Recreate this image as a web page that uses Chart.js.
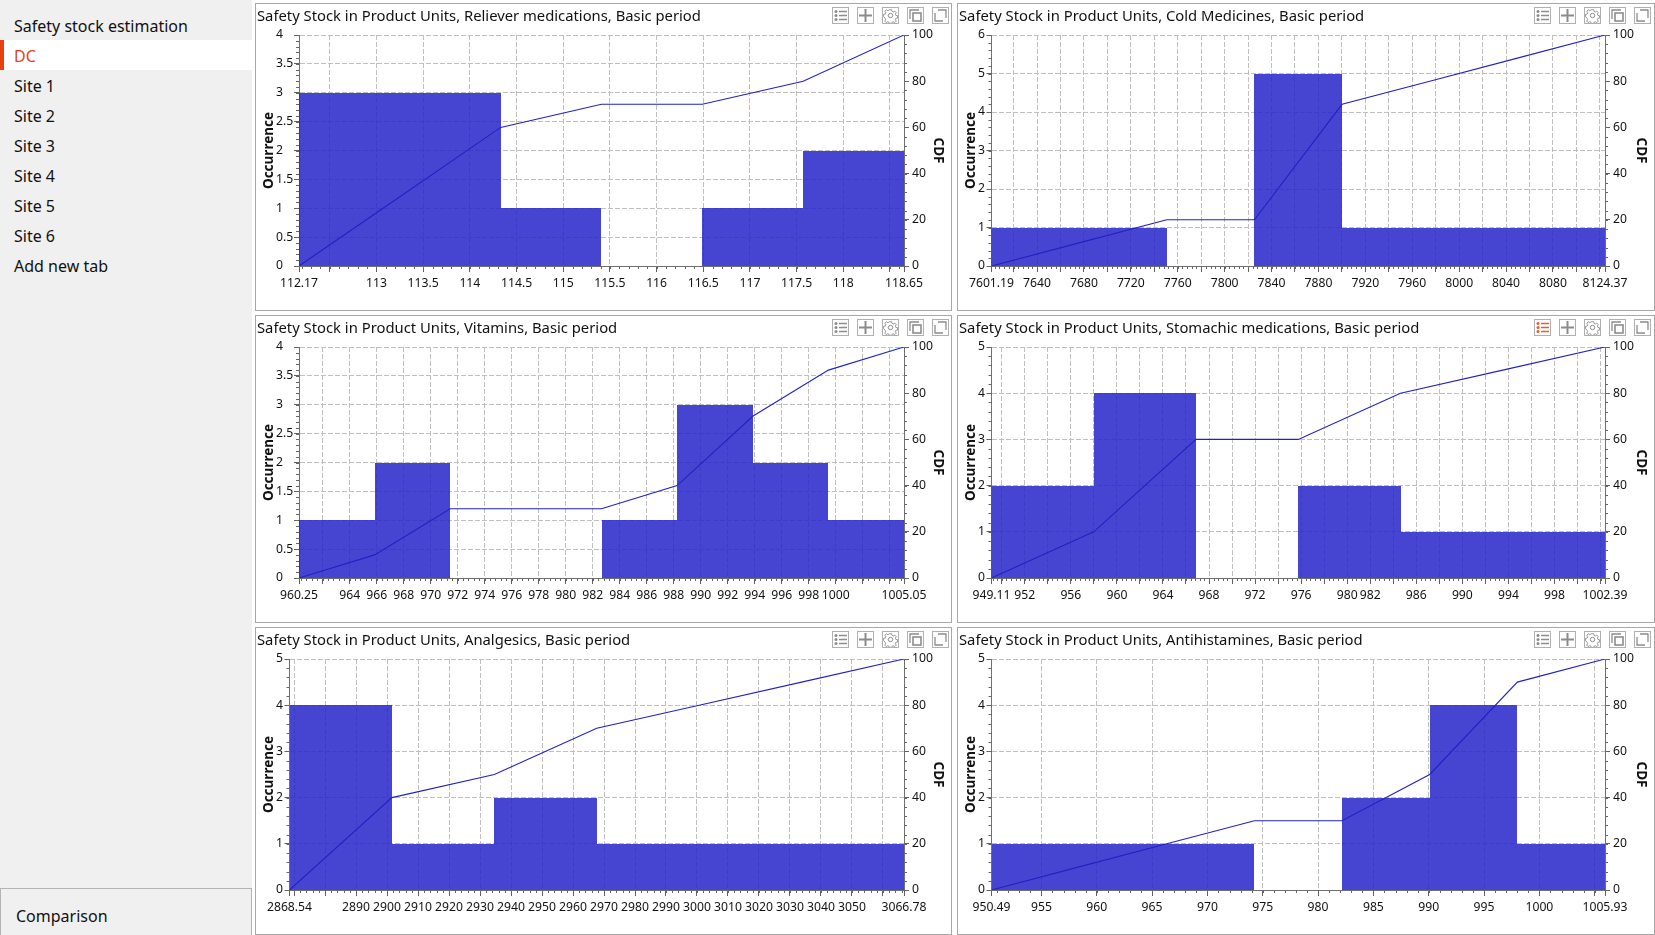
<!DOCTYPE html>
<html><head><meta charset="utf-8">
<script src="https://cdn.jsdelivr.net/npm/chart.js@4"></script>
<style>
html,body{margin:0;padding:0;background:#fff;width:1655px;height:935px;overflow:hidden;font-family:"Noto Sans",sans-serif;color:#111}
#side{position:absolute;left:0;top:0;width:252px;height:935px;background:#f0f0f0}
.item{position:absolute;left:14px;font-size:16px;line-height:30px;height:30px;white-space:nowrap}
#sel{position:absolute;left:0;top:40px;width:252px;height:30px;background:#fff}
#bar{position:absolute;left:0;top:40px;width:4px;height:30px;background:#e8410f}
#cmp{position:absolute;left:0;top:888px;height:47px;border:1px solid #b4b4b4;border-bottom:0;box-sizing:border-box;width:252px}
#cmp span{position:absolute;left:15px;top:12px;font-size:16px;line-height:30px}
.panel{position:absolute;box-sizing:border-box;border:1px solid #a8a8a8;background:#fff}
.panel canvas{position:absolute;display:block}
.ptitle{position:absolute;left:1px;top:0;font-size:14.8px;line-height:22px;white-space:nowrap;color:#111;z-index:2}
.ico{position:absolute;width:17px;height:17px;box-sizing:border-box;border:1px solid #b0b0b0;background:#fff;z-index:2}
.ico svg{display:block;width:15px;height:15px}
</style></head><body>
<div id="side"></div><div id="sel"></div><div id="bar"></div>
<div id="cmp"><span>Comparison</span></div>
<div id="root"></div>
<script>
// ---- sidebar text
const sidebarItems = ["Safety stock estimation","DC","Site 1","Site 2","Site 3","Site 4","Site 5","Site 6","Add new tab"];

// ---- Reliever medications
const relieverEdges  = [112.17,113.25,114.33,115.41,116.49,117.57,118.65];
const relieverCounts = [3,3,1,0,1,2];
const relieverCdf    = [0,30,60,70,70,80,100];
const relieverLabels = [112.17,113,113.5,114,114.5,115,115.5,116,116.5,117,117.5,118,118.65];
const relieverOccTicks = [0,0.5,1,1.5,2,2.5,3,3.5,4];

// ---- Cold Medicines
const coldEdges  = [7601.19,7675.93,7750.67,7825.41,7900.15,7974.89,8049.63,8124.37];
const coldCounts = [1,1,0,5,1,1,1];
const coldCdf    = [0,10,20,20,70,80,90,100];
const coldLabels = [7601.19,7640,7680,7720,7760,7800,7840,7880,7920,7960,8000,8040,8080,8124.37];
const coldOccTicks = [0,1,2,3,4,5,6];

// ---- Vitamins
const vitaminEdges  = [960.25,965.85,971.45,977.05,982.65,988.25,993.85,999.45,1005.05];
const vitaminCounts = [1,2,0,0,1,3,2,1];
const vitaminCdf    = [0,10,30,30,30,40,70,90,100];
const vitaminLabels = [960.25,964,966,968,970,972,974,976,978,980,982,984,986,988,990,992,994,996,998,1000,1005.05];
const vitaminOccTicks = [0,0.5,1,1.5,2,2.5,3,3.5,4];

// ---- Stomachic medications
const stomachicEdges  = [949.11,957.99,966.87,975.75,984.63,993.51,1002.39];
const stomachicCounts = [2,4,0,2,1,1];
const stomachicCdf    = [0,20,60,60,80,90,100];
const stomachicLabels = [949.11,952,956,960,964,968,972,976,980,982,986,990,994,998,1002.39];
const stomachicOccTicks = [0,1,2,3,4,5];

// ---- Analgesics
const analgesicEdges  = [2868.54,2901.58,2934.62,2967.66,3000.70,3033.74,3066.78];
const analgesicCounts = [4,1,2,1,1,1];
const analgesicCdf    = [0,40,50,70,80,90,100];
const analgesicLabels = [2868.54,2890,2900,2910,2920,2930,2940,2950,2960,2970,2980,2990,3000,3010,3020,3030,3040,3050,3066.78];
const analgesicOccTicks = [0,1,2,3,4,5];

// ---- Antihistamines
const antihistEdges  = [950.49,958.41,966.33,974.25,982.17,990.09,998.01,1005.93];
const antihistCounts = [1,1,1,0,2,4,1];
const antihistCdf    = [0,10,20,30,30,50,90,100];
const antihistLabels = [950.49,955,960,965,970,975,980,985,990,995,1000,1005.93];
const antihistOccTicks = [0,1,2,3,4,5];

const cdfTicks = [0,20,40,60,80,100];

const panels = [
 {name:"Reliever medications", edges:relieverEdges,counts:relieverCounts,cdf:relieverCdf,labels:relieverLabels,occ:relieverOccTicks,gridStep:0.5,minorX:0.1,minorY:0.1,col:0,row:0,plotLeft:43},
 {name:"Cold Medicines",       edges:coldEdges,counts:coldCounts,cdf:coldCdf,labels:coldLabels,occ:coldOccTicks,gridStep:20,minorX:4,minorY:0.2,col:1,row:0,plotLeft:33.5},
 {name:"Vitamins",             edges:vitaminEdges,counts:vitaminCounts,cdf:vitaminCdf,labels:vitaminLabels,occ:vitaminOccTicks,gridStep:2,minorX:0.4,minorY:0.1,col:0,row:1,plotLeft:43},
 {name:"Stomachic medications",edges:stomachicEdges,counts:stomachicCounts,cdf:stomachicCdf,labels:stomachicLabels,occ:stomachicOccTicks,gridStep:2,minorX:0.4,minorY:0.2,col:1,row:1,plotLeft:33.5,active:true},
 {name:"Analgesics",           edges:analgesicEdges,counts:analgesicCounts,cdf:analgesicCdf,labels:analgesicLabels,occ:analgesicOccTicks,gridStep:10,minorX:2,minorY:0.2,col:0,row:2,plotLeft:33.5},
 {name:"Antihistamines",       edges:antihistEdges,counts:antihistCounts,cdf:antihistCdf,labels:antihistLabels,occ:antihistOccTicks,gridStep:5,minorX:1,minorY:0.2,col:1,row:2,plotLeft:33.5}
];

// sidebar
sidebarItems.forEach((t,i)=>{
  const d=document.createElement('div');d.className='item';d.textContent=t;
  d.style.top=(11+i*30)+'px';
  if(t==='DC'){d.style.color='#e8401c';}
  document.body.appendChild(d);
});

// icons
function iconSvg(kind,c){
  const s=`stroke="${c}" fill="none"`;
  const m={
   list:`<circle cx="3" cy="3.5" r="1.5" fill="${c}"/><circle cx="3" cy="7.5" r="1.5" fill="${c}"/><circle cx="3" cy="11.5" r="1.5" fill="${c}"/><path d="M6 3.5h8M6 7.5h8M6 11.5h8" ${s} stroke-width="1.3"/>`,
   plus:`<path d="M7.5 1v13M1 7.5h13" ${s} stroke-width="2"/>`,
   gear:`<circle cx="7.5" cy="7.5" r="2.2" ${s} stroke-width="1"/><path d="M6.3 1.2h2.4l.4 1.8 1.5.7 1.6-1 1.6 1.7-1 1.5.6 1.5 1.8.4v2.4l-1.8.4-.6 1.5 1 1.5-1.6 1.6-1.6-.9-1.5.6-.4 1.8H6.3l-.4-1.8-1.5-.6-1.6.9-1.6-1.6 1-1.5-.6-1.5L0 8.7V6.3l1.8-.4.6-1.5-1-1.5L3 1.2l1.6 1 1.5-.7z" ${s} stroke-width="1" transform="translate(.6 .6) scale(.92)"/>`,
   copy:`<path d="M2 11V2h9" ${s} stroke-width="1.3"/><rect x="5" y="5" width="8" height="8" ${s} stroke-width="1.6"/>`,
   max:`<path d="M5 2h8v8M10 13H2V5" ${s} stroke-width="1.3"/>`
  };
  return `<svg viewBox="0 0 15 15" xmlns="http://www.w3.org/2000/svg">${m[kind]}</svg>`;
}

// minor tick marks, read through each chart's own scales
const minorTicks={id:'minorTicks',afterDraw(chart,args,o){
  const {ctx,chartArea:a,scales:{x,y,y2}}=chart;
  ctx.save();ctx.strokeStyle='#666';ctx.lineWidth=1;ctx.beginPath();
  const eps=1e-6;
  for(let k=Math.ceil(x.min/o.x-eps);k*o.x<=x.max+eps;k++){
    const p=Math.round(x.getPixelForValue(k*o.x))+.5;ctx.moveTo(p,a.bottom);ctx.lineTo(p,a.bottom+3);}
  for(let k=0;k*o.y<=y.max+eps;k++){
    const p=Math.round(y.getPixelForValue(k*o.y))+.5;ctx.moveTo(a.left,p);ctx.lineTo(a.left-3,p);}
  for(let k=0;k*4<=y2.max+eps;k++){
    const p=Math.round(y2.getPixelForValue(k*4))+.5;ctx.moveTo(a.right,p);ctx.lineTo(a.right+3,p);}
  ctx.stroke();ctx.restore();
}};

// snap histogram bars to whole pixels so that neighbouring bins leave no seam
const snapBars={id:'snapBars',afterDatasetsUpdate(chart){
  chart.getSortedVisibleDatasetMetas().forEach(meta=>{
    if(meta.type!=='bar')return;
    meta.data.forEach(b=>{
      const l=Math.round(b.x-b.width/2),r=Math.round(b.x+b.width/2);
      b.x=(l+r)/2;b.width=r-l;b.y=Math.round(b.y);b.base=Math.round(b.base);
    });
  });
}};

const colX=[{left:255,width:697,plotRight:904},{left:957,width:698,plotRight:1605}];
const rowY=[{top:3,height:308},{top:315,height:308},{top:627,height:308}];
const gridC='#c0c0c0', axisC='#707070', tickC='#606060', textC='#111';
const font12={family:'"Noto Sans"',size:12.2};
const titleFont={family:'"Noto Sans"',size:13.5,weight:'bold',lineHeight:1};

panels.forEach(p=>{
  const cx=colX[p.col], ry=rowY[p.row];
  const el=document.createElement('div');el.className='panel';
  el.style.cssText=`left:${cx.left}px;top:${ry.top}px;width:${cx.width}px;height:${ry.height}px`;
  const t=document.createElement('div');t.className='ptitle';
  t.textContent=`Safety Stock in Product Units, ${p.name}, Basic period`;el.appendChild(t);
  ['list','plus','gear','copy','max'].forEach((k,i)=>{
    const b=document.createElement('div');b.className='ico';
    b.style.left=(576+i*25)+'px';b.style.top='3px';
    const red=p.active&&k==='list';
    b.innerHTML=iconSvg(k,red?'#ec5a35':'#8c8c8c');el.appendChild(b);
  });
  const W=cx.width-2,H=ry.height-2;
  const c=document.createElement('canvas');c.width=W;c.height=H;
  c.style.cssText=`left:0;top:0;width:${W}px;height:${H}px`;el.appendChild(c);
  document.getElementById('root').appendChild(el);

  const xMin=p.edges[0],xMax=p.edges[p.edges.length-1];
  const centers=p.counts.map((_,i)=>(p.edges[i]+p.edges[i+1])/2);
  const gridVals=[xMin];
  for(let k=Math.ceil(xMin/p.gridStep+1e-6);k*p.gridStep<xMax-1e-6;k++)gridVals.push(Math.round(k*p.gridStep*1000)/1000);
  gridVals.push(xMax);
  const leftPad=20;
  new Chart(c,{
    type:'bar',
    data:{datasets:[
      {type:'line',label:'CDF',yAxisID:'y2',order:0,
       data:p.edges.map((e,i)=>({x:e,y:p.cdf[i]})),
       borderColor:'#2222c4',borderWidth:1.1,pointRadius:0,tension:0,fill:false},
      {type:'bar',label:'Occurrence',yAxisID:'y',order:1,
       data:centers.map((e,i)=>({x:e,y:p.counts[i]})),
       backgroundColor:'rgba(37,37,202,0.85)',borderWidth:0,inflateAmount:0,
       barThickness:'flex',categoryPercentage:1,barPercentage:1}
    ]},
    options:{
      responsive:false,animation:false,devicePixelRatio:1,
      layout:{padding:{left:leftPad,top:31,right:0,bottom:0}},
      plugins:{legend:{display:false},tooltip:{enabled:false},title:{display:false},
               minorTicks:{x:p.minorX,y:p.minorY}},
      scales:{
        x:{type:'linear',min:xMin,max:xMax,offset:false,
           afterBuildTicks(s){s.ticks=gridVals.map(v=>({value:v}));},
           afterFit(s){s.height=H-262;},
           grid:{offset:false,color:gridC,lineWidth:1,tickColor:tickC,tickLength:6,drawTicks:true},
           border:{color:axisC,dash:[5,2]},
           ticks:{autoSkip:false,maxRotation:0,minRotation:0,padding:4,color:textC,font:font12,
                  includeBounds:true,
                  callback(v){return p.labels.includes(v)?String(v):'';}}},
        y:{type:'linear',position:'left',min:0,max:p.occ[p.occ.length-1],
           afterBuildTicks(s){s.ticks=p.occ.map(v=>({value:v}));},
           afterFit(s){s.width=p.plotLeft-leftPad;},
           grid:{color:gridC,tickColor:tickC,tickLength:5},
           border:{color:axisC,dash:[5,2]},
           title:{display:true,text:'Occurrence',color:textC,font:titleFont,padding:{top:-14,bottom:0}},
           ticks:{crossAlign:'far',color:textC,font:font12,padding:3,callback(v){return String(v);}}},
        y2:{type:'linear',position:'right',min:0,max:100,
           afterBuildTicks(s){s.ticks=cdfTicks.map(v=>({value:v}));},
           afterFit(s){s.width=cx.left+1+W-cx.plotRight;},
           grid:{drawOnChartArea:false,tickColor:tickC,tickLength:5},
           border:{color:axisC},
           title:{display:true,text:'CDF',color:textC,font:titleFont,padding:{top:6.25,bottom:0}},
           ticks:{color:textC,font:font12,padding:3,callback(v){return String(v);}}}
      }
    },
    plugins:[snapBars,minorTicks]
  });
});
</script>
</body></html>
